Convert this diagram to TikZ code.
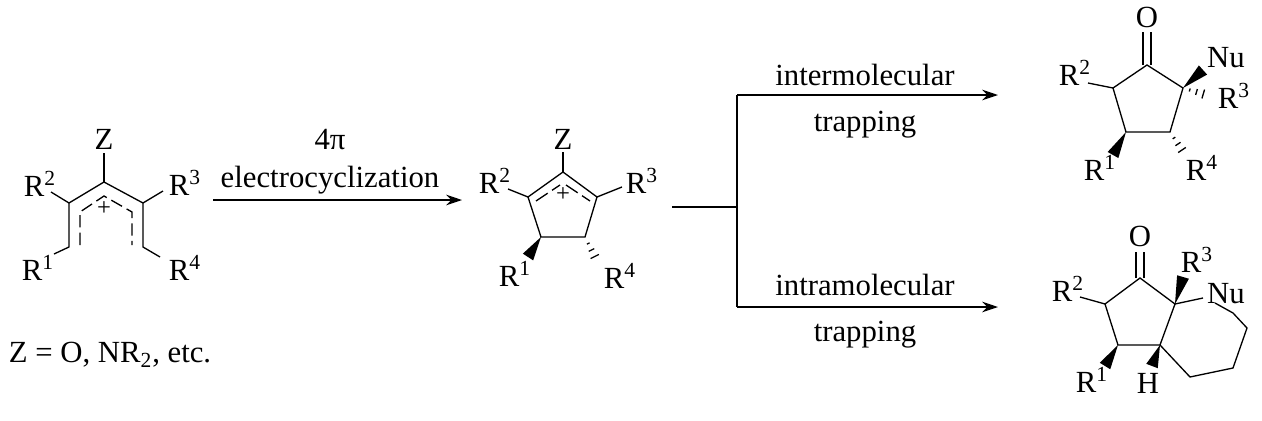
\documentclass[tikz,border=0pt]{standalone}
\usepackage{fontspec}
\setmainfont{Liberation Serif}
\usetikzlibrary{calc}
\usetikzlibrary{arrows.meta}

\newcommand{\wedgebond}[2]{\fill (#1) -- ($(#2)!3.5pt!90:(#1)$) -- ($(#2)!3.5pt!-90:(#1)$) -- cycle;}
\newcommand{\hashbond}[2]{%
  \foreach \t in {0.25,0.5,0.75,1.0} {
    \path (#1) -- (#2) coordinate[pos=\t] (hc);
    \draw ($(hc)!{\t*3.5pt}!90:(#2)$) -- ($(hc)!{\t*3.5pt}!-90:(#2)$);
  }}
\newcommand{\Rg}[1]{R\textsuperscript{#1}}

\begin{document}
\begin{tikzpicture}[x=0.02cm,y=-0.02cm,line width=0.75pt,
    font=\fontsize{17.5}{20}\selectfont]
	\tikzstyle{lbl}=[inner sep=0pt,text centered]
	\tikzstyle{rxn}=[-{Stealth[length=9pt,width=6pt]}]
	\tikzstyle{deloc}=[dash pattern=on 7pt off 3pt]
	\useasboundingbox (0,0) rectangle (1262,420);

	% open pentadienyl cation
	\coordinate (a0) at (104,182);
	\coordinate (a1) at (69,203);
	\coordinate (a2) at (143,203);
	\coordinate (a3) at (69,247);
	\coordinate (a4) at (143,247);
	\node[lbl] (z0)  at (104,139) {Z};
	\node[lbl] (ra2) at (40,184)  {\Rg{2}};
	\node[lbl] (ra3) at (185,183) {\Rg{3}};
	\node[lbl] (ra1) at (38,268)  {\Rg{1}};
	\node[lbl] (ra4) at (185,268) {\Rg{4}};
	\node[lbl,font=\fontsize{14}{14}\selectfont] (pa) at (104,209) {+};
	\draw (a0) -- (104,153);
	\draw (a1) -- (a0) -- (a2);
	\draw (a1) -- (a3) -- (54,254);
	\draw (a2) -- (a4) -- (160,257);
	\draw (a1) -- (51,192);
	\draw (a2) -- (163,191);
	\draw[deloc] (80,245) -- (80,212) -- (104,196) -- (132,212) -- (132,245);
	\node[lbl] (note) at (110,355) {Z = O, NR\textsubscript{2}, etc.};

	% electrocyclization
	\coordinate (e0) at (213,200);
	\coordinate (e1) at (462,200);
	\draw[rxn] (e0) -- (e1);
	\node[lbl] (el1) at (330,140) {4π};
	\node[lbl] (el2) at (330,180) {electrocyclization};

	% cyclopentenyl cation
	\coordinate (b0) at (563,172);
	\coordinate (b1) at (528,197);
	\coordinate (b2) at (597,197);
	\coordinate (b3) at (541,237);
	\coordinate (b4) at (585,237);
	\node[lbl] (z1)  at (563,139) {Z};
	\node[lbl] (rb2) at (495,181) {\Rg{2}};
	\node[lbl] (rb3) at (642,181) {\Rg{3}};
	\node[lbl] (rb1) at (515,274) {\Rg{1}};
	\node[lbl] (rb4) at (620,276) {\Rg{4}};
	\node[lbl,font=\fontsize{14}{14}\selectfont] (pb) at (563,195) {+};
	\draw (b0) -- (563,152);
	\draw (b1) -- (b0) -- (b2) -- (b4) -- (b3) -- cycle;
	\draw (b1) -- (508,189);
	\draw (b2) -- (622,187);
	\draw[dash pattern=on 8pt off 3pt] (536,201) -- (560,185);
	\draw[dash pattern=on 8pt off 3pt] (566,185) -- (590,201);
	\wedgebond{b3}{528,257}
	\hashbond{b4}{598,263}

	% branch
	\coordinate (s0) at (672,207);
	\coordinate (s1) at (737,207);
	\coordinate (s2) at (737,95);
	\coordinate (s3) at (737,307);
	\coordinate (t2) at (998,95);
	\coordinate (t3) at (998,307);
	\draw (s0) -- (s1);
	\draw (s2) -- (s3);
	\draw[rxn] (s2) -- (t2);
	\draw[rxn] (s3) -- (t3);
	\node[lbl] (l1) at (865,75)  {intermolecular};
	\node[lbl] (l2) at (865,125) {trapping};
	\node[lbl] (l3) at (865,285) {intramolecular};
	\node[lbl] (l4) at (865,335) {trapping};

	% intermolecular product
	\coordinate (c0) at (1147,65);
	\coordinate (c1) at (1113,88);
	\coordinate (c2) at (1183,88);
	\coordinate (c3) at (1126,132);
	\coordinate (c4) at (1170,132);
	\node[lbl] (o1)  at (1147,17)  {O};
	\node[lbl] (nu1) at (1226,58)  {Nu};
	\node[lbl] (rc2) at (1075,73)  {\Rg{2}};
	\node[lbl] (rc3) at (1234,96)  {\Rg{3}};
	\node[lbl] (rc1) at (1100,168) {\Rg{1}};
	\node[lbl] (rc4) at (1202,168) {\Rg{4}};
	\draw (c0) -- (c2) -- (c4) -- (c3) -- (c1) -- cycle;
	\draw ([xshift=-2.2pt]c0) -- ([xshift=-2.2pt]1147,32);
	\draw ([xshift=2.2pt]c0) -- ([xshift=2.2pt]1147,32);
	\draw (c1) -- (1088,83);
	\wedgebond{c2}{1203,70}
	\hashbond{c2}{1210,96}
	\wedgebond{c3}{1113,155}
	\hashbond{c4}{1186,156}

	% intramolecular product
	\coordinate (d0) at (1140,278);
	\coordinate (d1) at (1105,304);
	\coordinate (d2) at (1175,304);
	\coordinate (d3) at (1118,345);
	\coordinate (d4) at (1160,345);
	\coordinate (d5) at (1233,313);
	\coordinate (d6) at (1247,328);
	\coordinate (d7) at (1233,368);
	\coordinate (d8) at (1190,377);
	\node[lbl] (o2)  at (1140,236) {O};
	\node[lbl] (nu2) at (1226,294) {Nu};
	\node[lbl] (rd2) at (1068,289) {\Rg{2}};
	\node[lbl] (rd3) at (1197,260) {\Rg{3}};
	\node[lbl] (rd1) at (1092,380) {\Rg{1}};
	\node[lbl] (h1)  at (1148,383) {H};
	\draw (d0) -- (d2) -- (d4) -- (d3) -- (d1) -- cycle;
	\draw ([xshift=-2.2pt]d0) -- ([xshift=-2.2pt]1140,252);
	\draw ([xshift=2.2pt]d0) -- ([xshift=2.2pt]1140,252);
	\draw (d1) -- (1080,297);
	\draw (d2) -- (1203,298);
	\draw (1215,303) -- (d5) -- (d6) -- (d7) -- (d8) -- (d4);
	\wedgebond{d2}{1183,277}
	\wedgebond{d3}{1105,366}
	\wedgebond{d4}{1152,366}
\end{tikzpicture}
\end{document}
